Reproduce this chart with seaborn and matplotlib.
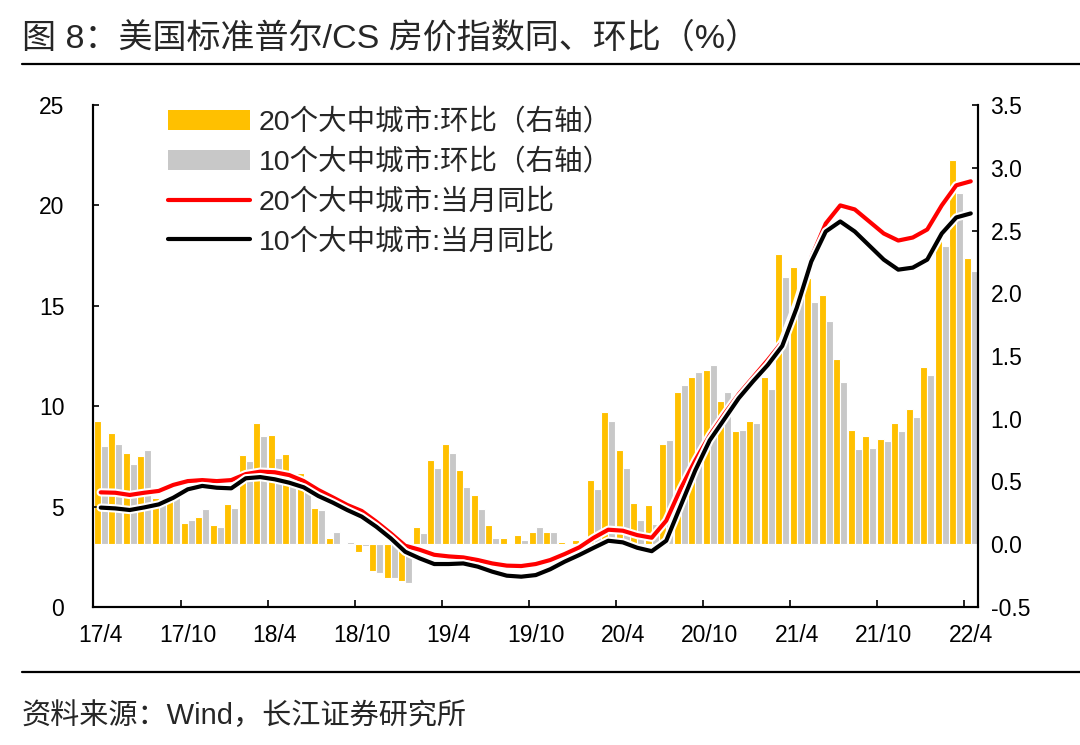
import numpy as np
import pandas as pd
import matplotlib
matplotlib.use("Agg")
import matplotlib.pyplot as plt
import matplotlib.patheffects as pe
from matplotlib.patches import Patch
from matplotlib.lines import Line2D
import seaborn as sns

# Data (monthly, 2017/4 - 2022/4)

months = pd.date_range("2017-04-01", "2022-04-01", freq="MS")
tick_labels = ["17/4", "17/10", "18/4", "18/10", "19/4", "19/10",
               "20/4", "20/10", "21/4", "21/10", "22/4"]

# month-on-month, right axis
mom_20 = [0.98, 0.89, 0.73, 0.70, 0.37, 0.37, 0.17, 0.22, 0.15, 0.32,
          0.71, 0.97, 0.87, 0.72, 0.57, 0.29, 0.05, 0.00, -0.06, -0.21,
          -0.27, -0.29, 0.14, 0.67, 0.80, 0.59, 0.39, 0.15, 0.05, 0.07,
          0.10, 0.10, 0.02, 0.03, 0.51, 1.05, 0.75, 0.33, 0.31, 0.80,
          1.21, 1.33, 1.39, 1.14, 0.90, 0.98, 1.33, 2.31, 2.21, 2.12,
          1.99, 1.48, 0.91, 0.86, 0.84, 0.97, 1.08, 1.41, 2.44, 3.06,
          2.28]
mom_10 = [0.78, 0.80, 0.64, 0.75, 0.33, 0.40, 0.19, 0.28, 0.14, 0.29,
          0.66, 0.86, 0.69, 0.54, 0.47, 0.27, 0.10, 0.02, -0.01, -0.23,
          -0.27, -0.31, 0.09, 0.61, 0.73, 0.46, 0.28, 0.05, 0.00, 0.03,
          0.14, 0.10, 0.01, 0.01, 0.44, 0.98, 0.61, 0.19, 0.16, 0.83,
          1.27, 1.37, 1.43, 1.21, 0.91, 0.97, 1.24, 2.13, 2.04, 1.93,
          1.78, 1.29, 0.76, 0.77, 0.82, 0.90, 1.01, 1.35, 2.38, 2.80,
          2.18]

# year-on-year, left axis
yoy_20 = [5.71, 5.69, 5.58, 5.69, 5.78, 6.08, 6.27, 6.32, 6.27, 6.32,
          6.62, 6.74, 6.71, 6.57, 6.27, 5.83, 5.46, 5.08, 4.78, 4.25,
          3.67, 3.05, 2.85, 2.60, 2.52, 2.47, 2.34, 2.17, 2.06, 2.04,
          2.14, 2.34, 2.64, 2.97, 3.45, 3.85, 3.80, 3.58, 3.45, 4.30,
          5.90, 7.30, 8.55, 9.60, 10.60, 11.45, 12.30, 13.20, 15.10, 17.40,
          19.10, 20.00, 19.80, 19.20, 18.60, 18.25, 18.40, 18.80, 20.00, 21.00,
          21.20]
yoy_10 = [4.95, 4.91, 4.83, 4.96, 5.11, 5.44, 5.86, 6.03, 5.94, 5.91,
          6.41, 6.47, 6.36, 6.19, 5.96, 5.53, 5.20, 4.83, 4.50, 4.00,
          3.42, 2.75, 2.42, 2.14, 2.14, 2.17, 2.01, 1.76, 1.56, 1.51,
          1.59, 1.88, 2.26, 2.59, 2.95, 3.30, 3.22, 2.95, 2.78, 3.30,
          5.05, 6.80, 8.30, 9.35, 10.40, 11.25, 12.05, 13.00, 14.90, 17.20,
          18.70, 19.20, 18.70, 18.00, 17.30, 16.80, 16.90, 17.30, 18.60, 19.40,
          19.60]

lab_20_mom = "20个大中城市:环比（右轴）"
lab_10_mom = "10个大中城市:环比（右轴）"
lab_20_yoy = "20个大中城市:当月同比"
lab_10_yoy = "10个大中城市:当月同比"

ORANGE = "#FFC000"
GREY = "#C8C8C8"
RED = "#FF0000"

sns.set_theme(style="white")
plt.rcParams["font.family"] = ["Liberation Sans", "Noto Sans CJK SC", "DejaVu Sans"]

n = len(months)
pos = np.arange(n)
bars = pd.DataFrame({
    "pos": np.concatenate([pos, pos]),
    "val": mom_20 + mom_10,
    "series": [lab_20_mom] * n + [lab_10_mom] * n,
})

fig = plt.figure(figsize=(10.8, 7.45), dpi=100)
ax = fig.add_axes([93.5 / 1080, 1 - 607 / 745, (978 - 93.5) / 1080, (607 - 105) / 745])

# bars (right axis)
sns.barplot(data=bars, x="pos", y="val", hue="series",
            hue_order=[lab_20_mom, lab_10_mom], palette=[ORANGE, GREY],
            native_scale=True, width=0.95, saturation=1, errorbar=None,
            edgecolor="white", linewidth=0.8, legend=False, ax=ax)

# lines (left axis)
ax2 = ax.twinx()
stroke = [pe.Stroke(linewidth=6, foreground="white"), pe.Normal()]
for vals, col in ((yoy_20, RED), (yoy_10, "black")):
    sns.lineplot(x=pos, y=vals, ax=ax2, color=col, linewidth=3.0,
                 path_effects=stroke, solid_joinstyle="round", solid_capstyle="round")

ax.yaxis.tick_right()
ax2.yaxis.tick_left()

ax.set_xlim(-0.5, n - 0.5)
ax.set_ylim(-0.5, 3.5)
ax.set_yticks(np.arange(-0.5, 3.51, 0.5))
ax.set_yticklabels([f"{v:.1f}" for v in np.arange(-0.5, 3.51, 0.5)])
ax2.set_ylim(0, 25)
ax2.set_yticks(range(0, 26, 5))

ax.set_xticks(pos[::6])
ax.set_xticklabels(tick_labels)
ax.set_xticks(np.arange(-0.5, n, 6), minor=True)
ax.tick_params(axis="x", which="major", length=0, pad=12, labelsize=16.5, colors="black")
ax.tick_params(axis="x", which="minor", direction="in", length=5, width=1.2,
               bottom=True, color="black")
ax.tick_params(axis="y", direction="in", length=4, width=1.2, pad=9,
               labelsize=16.5, right=True, left=False, colors="black")
ax2.tick_params(axis="y", direction="in", length=4, width=1.2, pad=21,
                labelsize=16.5, left=True, right=False, colors="black")

ax.set_xlabel("")
ax.set_ylabel("")
ax2.set_xlabel("")
ax2.set_ylabel("")
for a in (ax, ax2):
    a.spines["top"].set_visible(False)
    for s in ("left", "right", "bottom"):
        a.spines[s].set_color("black")
        a.spines[s].set_linewidth(1.5)
    a.grid(False)

handles = [
    Patch(facecolor=ORANGE, edgecolor="none"),
    Patch(facecolor=GREY, edgecolor="none"),
    Line2D([], [], color=RED, linewidth=3.0),
    Line2D([], [], color="black", linewidth=3.0),
]
ax2.legend(handles, [lab_20_mom, lab_10_mom, lab_20_yoy, lab_10_yoy],
           loc="upper left", bbox_to_anchor=(0.084, 0.992), frameon=False,
           fontsize=20.5, handlelength=2.9, handleheight=0.72, handletextpad=0.3,
           labelspacing=0.45, borderaxespad=0, borderpad=0)

# title, rules and source
fig.text(22 / 1080, 1 - 38 / 745, "图 8：美国标准普尔/CS 房价指数同、环比（%）",
         fontsize=24.5, va="center", ha="left")
fig.add_artist(Line2D([22 / 1080, 1], [1 - 64 / 745] * 2, color="black", linewidth=1.6))
fig.add_artist(Line2D([22 / 1080, 1], [1 - 672 / 745] * 2, color="black", linewidth=1.6))
fig.text(22 / 1080, 1 - 716 / 745, "资料来源：Wind，长江证券研究所",
         fontsize=21, va="center", ha="left")

fig.savefig("out.png", dpi=100)
